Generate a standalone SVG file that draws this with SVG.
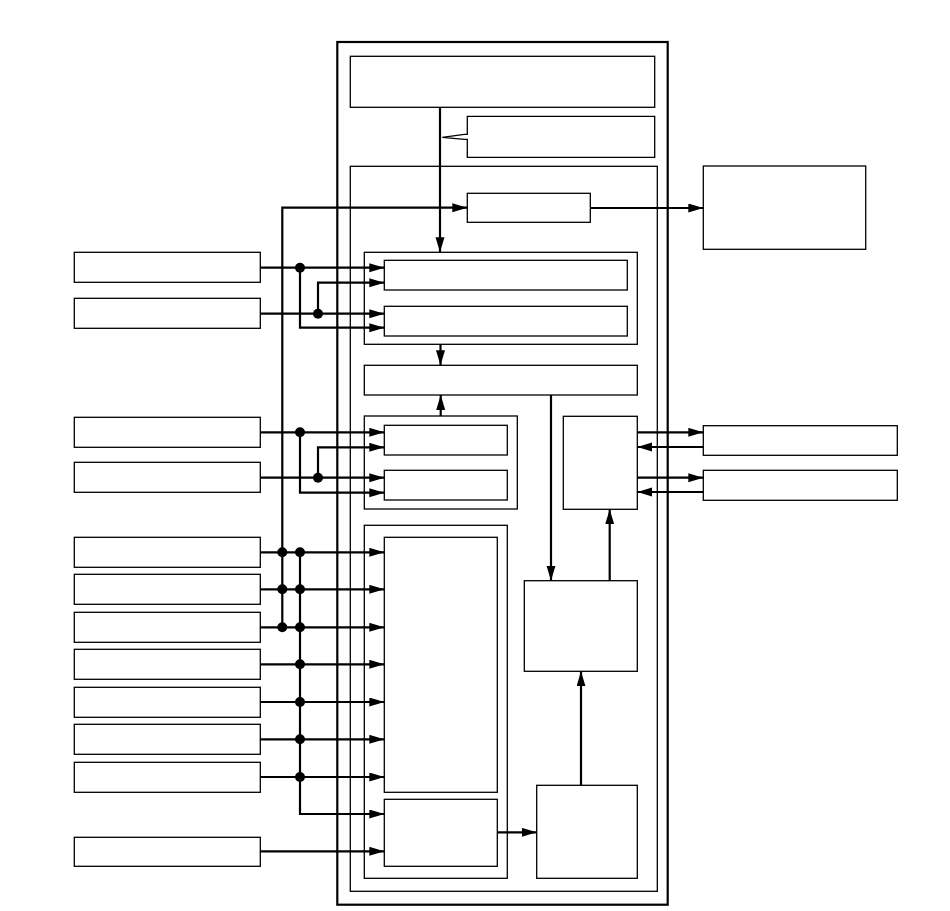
<svg xmlns="http://www.w3.org/2000/svg" width="950" height="911" viewBox="0 0 950 911">
<style>
.b{fill:none;stroke:#000;stroke-width:1.3}
.o{fill:none;stroke:#000;stroke-width:2.2}
.c{fill:none;stroke:#000;stroke-width:2.2}
.a{marker-end:url(#ah)}
.d{fill:#000}
</style>
<defs>
<marker id="ah" markerUnits="userSpaceOnUse" markerWidth="16" markerHeight="10" refX="15" refY="4.5" orient="auto">
<path d="M0,0 L15,4.5 L0,9 Z" fill="#000"/>
</marker>
</defs>
<rect width="950" height="911" fill="#fff"/>
<g id="outer"><rect class="o" x="337.3" y="42" width="330.4" height="862.7"/></g>
<g id="top"><rect class="b" x="350.3" y="56.3" width="304.4" height="51"/></g>
<g id="callout"><path class="b" d="M467.3,116.3 H654.7 V157.3 H467.3 V139.3 H464.3 L442.3,137.3 L464.3,134.3 H467.3 Z"/></g>
<g id="inner"><rect class="b" x="350.3" y="166.3" width="307" height="725"/></g>
<g id="n_small"><rect class="b" x="467.3" y="193.3" width="123" height="29"/></g>
<g id="n_topright"><rect class="b" x="703.3" y="166" width="162.4" height="83.3"/></g>
<g id="grp1"><rect class="b" x="364.3" y="252.3" width="273" height="92"/></g>
<g id="g1a"><rect class="b" x="384.3" y="260.3" width="243" height="29.7"/></g>
<g id="g1b"><rect class="b" x="384.3" y="306.3" width="243" height="29.7"/></g>
<g id="mid"><rect class="b" x="364.3" y="365.3" width="273" height="29.7"/></g>
<g id="grp2"><rect class="b" x="364.3" y="416" width="153" height="93"/></g>
<g id="g2a"><rect class="b" x="384.3" y="425.3" width="123" height="29.7"/></g>
<g id="g2b"><rect class="b" x="384.3" y="470.3" width="123" height="29.7"/></g>
<g id="rtall"><rect class="b" x="563.3" y="416.3" width="74" height="93"/></g>
<g id="r1"><rect class="b" x="703.3" y="425.7" width="194" height="29.6"/></g>
<g id="r2"><rect class="b" x="703.3" y="470.3" width="194" height="30"/></g>
<g id="grp3"><rect class="b" x="364.3" y="525.3" width="143" height="353"/></g>
<g id="big"><rect class="b" x="384.3" y="537.3" width="113" height="255"/></g>
<g id="small2"><rect class="b" x="384.3" y="799.3" width="113" height="67"/></g>
<g id="rmid"><rect class="b" x="524.3" y="580.7" width="113" height="90.6"/></g>
<g id="rbot"><rect class="b" x="536.7" y="785.3" width="100.6" height="93"/></g>
<g id="lA"><rect class="b" x="74.3" y="252.3" width="186" height="30"/></g>
<g id="lB"><rect class="b" x="74.3" y="298.3" width="186" height="30"/></g>
<g id="lC"><rect class="b" x="74.3" y="417.3" width="186" height="30"/></g>
<g id="lD"><rect class="b" x="74.3" y="462.3" width="186" height="30"/></g>
<g id="lE"><rect class="b" x="74.3" y="537.3" width="186" height="30"/></g>
<g id="lF"><rect class="b" x="74.3" y="574.3" width="186" height="30"/></g>
<g id="lG"><rect class="b" x="74.3" y="612.3" width="186" height="30"/></g>
<g id="lH"><rect class="b" x="74.3" y="649.3" width="186" height="30"/></g>
<g id="lI"><rect class="b" x="74.3" y="687.3" width="186" height="30"/></g>
<g id="lJ"><rect class="b" x="74.3" y="724.3" width="186" height="30"/></g>
<g id="lK"><rect class="b" x="74.3" y="762.3" width="186" height="30"/></g>
<g id="lL"><rect class="b" x="74.3" y="837.3" width="186" height="29"/></g>
<g id="connectors">
<path class="c a" d="M440,107.3 V252.3"/>
<path class="c a" d="M282.3,627.3 V207.7 H467.3"/>
<path class="c a" d="M590.3,208 H703.3"/>
<path class="c a" d="M260.3,267.7 H384.3"/>
<path class="c a" d="M300,267.7 V327.7 H384.3"/>
<path class="c a" d="M260.3,313.7 H384.3"/>
<path class="c a" d="M318,313.7 V282.7 H384.3"/>
<path class="c a" d="M440.5,344.3 V365.3"/>
<path class="c a" d="M440.7,416 V395"/>
<path class="c a" d="M260.3,432.3 H384.3"/>
<path class="c a" d="M300,432.3 V492.7 H384.3"/>
<path class="c a" d="M260.3,477.7 H384.3"/>
<path class="c a" d="M318,477.7 V447.3 H384.3"/>
<path class="c a" d="M551,395 V580.7"/>
<path class="c a" d="M609.7,580.7 V509.3"/>
<path class="c a" d="M581,785.3 V671.3"/>
<path class="c a" d="M637.3,432.3 H703.3"/>
<path class="c a" d="M703.3,447 H637.3"/>
<path class="c a" d="M637.3,477.7 H703.3"/>
<path class="c a" d="M703.3,492 H637.3"/>
<path class="c a" d="M260.3,552.3 H384.3"/>
<path class="c a" d="M260.3,589.3 H384.3"/>
<path class="c a" d="M260.3,627.3 H384.3"/>
<path class="c a" d="M260.3,664.3 H384.3"/>
<path class="c a" d="M260.3,702 H384.3"/>
<path class="c a" d="M260.3,739.3 H384.3"/>
<path class="c a" d="M260.3,777 H384.3"/>
<path class="c a" d="M300,552.3 V814 H384.3"/>
<path class="c a" d="M260.3,851.3 H384.3"/>
<path class="c a" d="M497.3,832.3 H536.7"/>
<circle class="d" cx="300" cy="267.7" r="5"/>
<circle class="d" cx="318" cy="313.7" r="5"/>
<circle class="d" cx="300" cy="432.3" r="5"/>
<circle class="d" cx="318" cy="477.7" r="5"/>
<circle class="d" cx="282.3" cy="552.3" r="5"/>
<circle class="d" cx="300" cy="552.3" r="5"/>
<circle class="d" cx="282.3" cy="589.3" r="5"/>
<circle class="d" cx="300" cy="589.3" r="5"/>
<circle class="d" cx="282.3" cy="627.3" r="5"/>
<circle class="d" cx="300" cy="627.3" r="5"/>
<circle class="d" cx="300" cy="664.3" r="5"/>
<circle class="d" cx="300" cy="702" r="5"/>
<circle class="d" cx="300" cy="739.3" r="5"/>
<circle class="d" cx="300" cy="777" r="5"/>
</g>
</svg>
